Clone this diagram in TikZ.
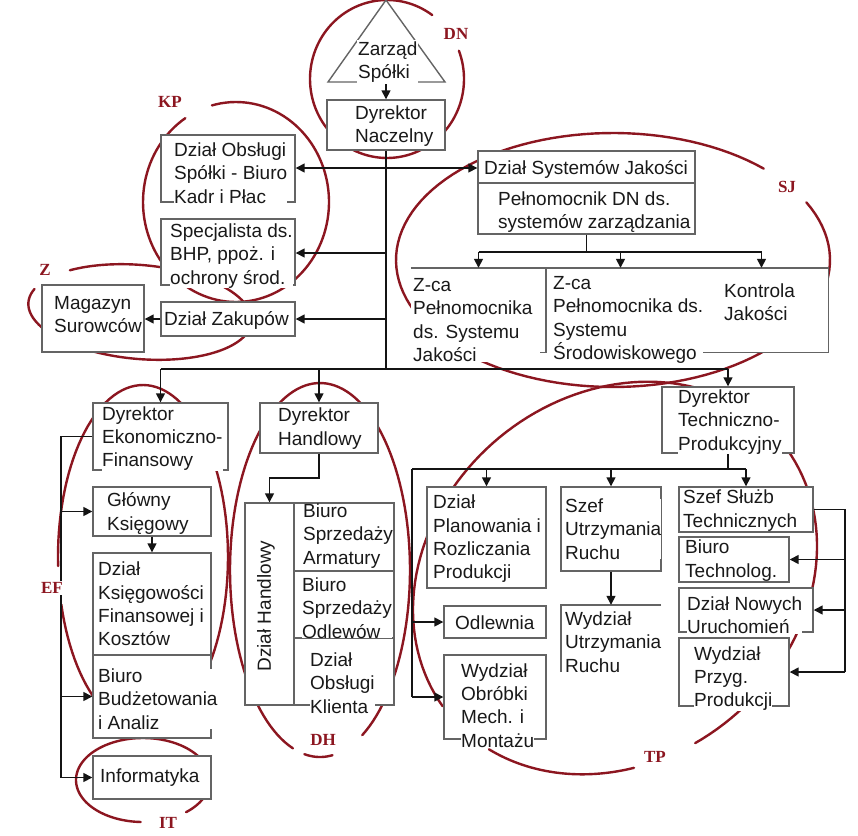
\documentclass[tikz,border=0pt]{standalone}
\usepackage{fontspec}
\setmainfont{Liberation Sans}
\newfontfamily\lblfont{Liberation Serif}
\usetikzlibrary{arrows.meta}
\definecolor{ellred}{RGB}{140,22,32}
\definecolor{txtc}{RGB}{25,25,25}
\definecolor{boxc}{RGB}{100,100,100}
\definecolor{connc}{RGB}{20,20,20}
\newcommand\ellarc[7]{\draw[ell] plot[domain=#6:#7, samples=120, variable=\x] ({#1+#3*cos(\x)*cos(#5)-#4*sin(\x)*sin(#5)},{#2+#3*cos(\x)*sin(#5)+#4*sin(\x)*cos(#5)});}
\tikzset{
 orgbox/.style={draw=boxc, line width=1.4pt, fill=white, inner sep=0pt, rectangle},
 boxnd/.style={fill=white, inner sep=0pt, rectangle},
 boxline/.style={draw=boxc, line width=1.4pt},
 btext/.style={anchor=west, align=left, inner sep=0pt, fill=white, yshift=-2pt, text=txtc, font=\fontsize{19}{23.3}\selectfont},
 conn/.style={draw=connc, line width=1.5pt},
 arr/.style={conn, -{Triangle[length=9pt,width=9pt]}},
 ell/.style={draw=ellred, line width=2.4pt, line cap=round},
 lbl/.style={text=ellred, fill=white, inner sep=1pt, font=\lblfont\bfseries\fontsize{17}{17}\selectfont}
}
\begin{document}
\begin{tikzpicture}[x=1pt,y=-1pt]
\fill[white] (0,0) rectangle (858,835);
\useasboundingbox (0,0) rectangle (858,835);
% ---------- group ellipses ----------
\ellarc{387}{79}{77}{79}{0}{-21}{306}
\ellarc{236}{202}{93}{100}{0}{255}{597}
\ellarc{613}{260}{217}{127}{0}{-27}{314}
\ellarc{140}{312}{112}{47}{5}{229}{557}
\ellarc{143}{557}{85}{172}{0}{177}{524}
\ellarc{320}{570}{90}{187}{0}{107.5}{422}
\ellarc{320}{570}{90}{187}{0}{82}{100}
\ellarc{615}{578}{215}{182}{-40}{184}{462}
\ellarc{615}{578}{215}{182}{-40}{120}{164}
\ellarc{143}{780}{67}{42}{0}{92}{410}
% ---------- boxes ----------
\node[orgbox, minimum width=118, minimum height=50] (dn) at (386,125) {};
\node[orgbox, minimum width=134, minimum height=67] (obs) at (228,168.5) {};
\node[orgbox, minimum width=134, minimum height=66] (bhp) at (228,252) {};
\node[orgbox, minimum width=134, minimum height=34] (zak) at (228,319) {};
\node[orgbox, minimum width=102, minimum height=67] (mag) at (93,318.5) {};
\node[orgbox, minimum width=217, minimum height=32] (dsj) at (586.5,167) {};
\node[orgbox, minimum width=217, minimum height=51] (pel) at (586.5,208.5) {};
\node[boxnd, minimum width=135, minimum height=84] (zca1) at (478.5,310) {};
\node[boxnd, minimum width=149, minimum height=84] (zca2) at (620.5,310) {};
\node[boxnd, minimum width=133, minimum height=84] (kj) at (761.5,310) {};
\node[orgbox, minimum width=132, minimum height=66] (dtp) at (728,420) {};
\node[orgbox, minimum width=119, minimum height=101] (plan) at (486.5,537.5) {};
\node[orgbox, minimum width=100, minimum height=84] (szur) at (611,529) {};
\node[boxnd, minimum width=100, minimum height=67] (wur) at (611,638.5) {};
\node[orgbox, minimum width=102, minimum height=32] (odl) at (495,622) {};
\node[orgbox, minimum width=102, minimum height=84] (wob) at (495,697) {};
\node[orgbox, minimum width=134, minimum height=45] (sst) at (746,509.5) {};
\node[orgbox, minimum width=110, minimum height=45] (bt) at (734,559.5) {};
\node[orgbox, minimum width=134, minimum height=44] (dnu) at (746,610) {};
\node[orgbox, minimum width=110, minimum height=68] (wpp) at (734,672) {};
\node[orgbox, minimum width=135, minimum height=67] (def) at (160.5,436.5) {};
\node[orgbox, minimum width=118, minimum height=49] (gk) at (152,511.5) {};
\node[orgbox, minimum width=118, minimum height=102] (dkf) at (152,604) {};
\node[orgbox, minimum width=118, minimum height=83] (bba) at (152,696.5) {};
\node[orgbox, minimum width=118, minimum height=43] (inf) at (152,777.5) {};
\node[orgbox, minimum width=118, minimum height=50] (dh) at (319,428) {};
\node[orgbox, minimum width=49, minimum height=202] (dhl) at (269.5,604) {};
\node[orgbox, minimum width=100, minimum height=68] (bsa) at (344,537) {};
\node[orgbox, minimum width=100, minimum height=67] (bso) at (344,604.5) {};
\node[orgbox, minimum width=100, minimum height=67] (dok) at (344,671.5) {};
% partial outlines
\draw[boxline] (zca1.north west) -- (kj.north east) -- (kj.south east) -- ++(-128,0);
\draw[boxline] (zca2.north west) -- (zca2.south west) -- ++(-6,0);
\draw[boxline] (wur.north east) -- (wur.north west) -- (wur.south west);
% triangle of the board
\draw[boxline, line join=miter] (386,0) -- (445,82) -- (328,82) -- cycle;
% ---------- connectors ----------
\coordinate (tb) at (386,82);
\coordinate (t1) at (386,168);
\coordinate (t2) at (386,253);
\coordinate (t3) at (386,319);
\coordinate (t4) at (386,369);
\coordinate (bL) at (160.5,369);
\coordinate (bR) at (728,369);
\draw[arr] (tb) -- (dn.north);
\draw[conn] (dn.south) -- (t4);
\draw[arr] (t1) -- (obs.east |- t1);
\draw[arr] (t1) -- (dsj.west |- t1);
\draw[arr] (t2) -- (bhp.east |- t2);
\draw[arr] (t3) -- (zak.east |- t3);
\draw[arr] (zak.west) -- (mag.east |- zak.west);
\draw[conn] (bL) -- (bR);
\draw[arr] (bL) -- (def.north);
\draw[arr] (dh.north |- bL) -- (dh.north);
\draw[arr] (bR) -- (dtp.north);
% quality
\coordinate (p1) at (586.5,252);
\draw[conn] (pel.south) -- (p1);
\draw[conn] (zca1.north |- p1) -- (kj.north |- p1);
\draw[arr] (zca1.north |- p1) -- (zca1.north);
\draw[arr] (zca2.north |- p1) -- (zca2.north);
\draw[arr] (kj.north |- p1) -- (kj.north);
% economic
\coordinate (e1) at (61,436.5);
\coordinate (e2) at (61,777.5);
\draw[conn] (def.west) -- (e1) -- (e2);
\draw[arr] (e1 |- gk.west) -- (gk.west);
\draw[arr] (e1 |- bba.west) -- (bba.west);
\draw[arr] (e2) -- (inf.west);
\draw[arr] (gk.south) -- (dkf.north);
% trade
\coordinate (h1) at (319,478);
\coordinate (h2) at (269.5,478);
\draw[arr] (dh.south) -- (h1) -- (h2) -- (dhl.north);
% technical
\coordinate (d1) at (728,469);
\coordinate (d0) at (412,469);
\coordinate (d2) at (412,697);
\draw[conn] (dtp.south) -- (d1);
\draw[conn] (d0) -- (sst.north |- d1);
\draw[arr] (plan.north |- d1) -- (plan.north);
\draw[arr] (szur.north |- d1) -- (szur.north);
\draw[arr] (sst.north |- d1) -- (sst.north);
\draw[conn] (d0) -- (d2);
\draw[arr] (d0 |- odl.west) -- (odl.west);
\draw[arr] (d2) -- (wob.west);
\draw[arr] (szur.south) -- (wur.north);
\coordinate (s1) at (845,509.5);
\coordinate (s2) at (845,672);
\draw[conn] (sst.east) -- (s1) -- (s2);
\draw[arr] (s1 |- bt.east) -- (bt.east);
\draw[arr] (s1 |- dnu.east) -- (dnu.east);
\draw[arr] (s2) -- (wpp.east);
% ---------- texts ----------
\node[btext, inner sep=1pt] (zarzadT) at (357,60) {Zarząd\\Spółki};
\node[btext] (dnT) at (355,124) {Dyrektor\\Naczelny};
\node[btext] (obsT) at (174,171) {Dział Obsługi\\Spółki - Biuro\\Kadr i Płac};
\node[btext] (bhpT) at (170,254) {Specjalista ds.\\BHP, ppoż. i\\ochrony środ.};
\node[btext, yshift=1pt] (zakT) at (164,319) {Dział Zakupów};
\node[btext] (magT) at (54,312.5) {Magazyn\\Surowców};
\node[btext, yshift=1pt] (dsjT) at (484,168) {Dział Systemów Jakości};
\node[btext] (pelT) at (498,210) {Pełnomocnik DN ds.\\systemów zarządzania};
\node[btext] (zca1T) at (413,318) {Z-ca\\Pełnomocnika\\ds. Systemu\\Jakości};
\node[btext] (zca2T) at (553,318) {Z-ca\\Pełnomocnika ds.\\Systemu\\Środowiskowego};
\node[btext] (kjT) at (724,300) {Kontrola\\Jakości};
\node[btext] (dtpT) at (678,420) {Dyrektor\\Techniczno-\\Produkcyjny};
\node[btext] (planT) at (433,537) {Dział\\Planowania i\\Rozliczania\\Produkcji};
\node[btext] (szurT) at (565,527) {Szef\\Utrzymania\\Ruchu};
\node[btext] (wurT) at (565,640) {Wydział\\Utrzymania\\Ruchu};
\node[btext, yshift=1pt] (odlT) at (455,622) {Odlewnia};
\node[btext] (wobT) at (461,703.5) {Wydział\\Obróbki\\Mech. i\\Montażu};
\node[btext] (sstT) at (683,508.5) {Szef Służb\\Technicznych};
\node[btext] (btT) at (685,558.5) {Biuro\\Technolog.};
\node[btext] (dnuT) at (687,613) {Dział Nowych\\Uruchomień};
\node[btext] (wppT) at (694,676.5) {Wydział\\Przyg.\\Produkcji};
\node[btext] (defT) at (102,436.7) {Dyrektor\\Ekonomiczno-\\Finansowy};
\node[btext] (gkT) at (107,511.5) {Główny\\Księgowy};
\node[btext] (dkfT) at (98,602) {Dział\\Księgowości\\Finansowej i\\Kosztów};
\node[btext] (bbaT) at (98,697) {Biuro\\Budżetowania\\i Analiz};
\node[btext, yshift=1pt] (infT) at (100,777) {Informatyka};
\node[btext] (dhT) at (278,426.5) {Dyrektor\\Handlowy};
\node[btext, anchor=center, rotate=90, yshift=2pt] (dhlT) at (268,604) {Dział Handlowy};
\node[btext] (bsaT) at (303,534) {Biuro\\Sprzedaży\\Armatury};
\node[btext] (bsoT) at (302,606) {Biuro\\Sprzedaży\\Odlewów};
\node[btext] (dokT) at (310,681) {Dział\\Obsługi\\Klienta};
% ---------- group labels ----------
\node[lbl] (lDN) at (456,34) {DN};
\node[lbl] (lKP) at (170,102) {KP};
\node[lbl] (lSJ) at (787,187) {SJ};
\node[lbl] (lZ) at (45,270) {Z};
\node[lbl] (lEF) at (52,588) {EF};
\node[lbl] (lDH) at (323,740) {DH};
\node[lbl] (lTP) at (655,757) {TP};
\node[lbl] (lIT) at (168,823) {IT};
\end{tikzpicture}
\end{document}
